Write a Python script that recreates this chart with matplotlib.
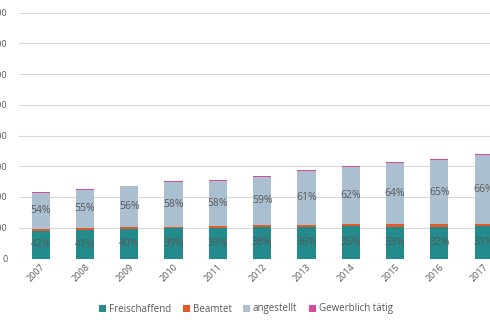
import matplotlib.pyplot as plt
import numpy as np

plt.rcParams['font.family'] = ['Open Sans', 'DejaVu Sans']

years = ['2007', '2008', '2009', '2010', '2011', '2012', '2013', '2014', '2015', '2016', '2017']
freischaffend = [90, 93, 95, 98, 99, 102, 103, 105, 104, 104, 105]
beamtet = [7, 7, 7, 6, 6, 6, 6, 6, 7, 7, 8]
angestellt = [116, 124, 133, 145, 148, 158, 176, 188, 200, 210, 223]
gewerblich = [2, 2, 2, 2, 2, 2, 2, 2, 3, 4, 4]
yticks = [0, 100, 200, 300, 400, 500, 600, 700, 800]

col_frei = '#238b8b'
col_beam = '#e05a2b'
col_ang = '#aac0d0'
col_gew = '#d94a9c'
txt = '#595959'

fig = plt.figure(figsize=(4.9, 3.26), dpi=100)
ax = fig.add_axes([18.5 / 490, 67.5 / 326, 487.3 / 490, 246 / 326])

x = np.arange(len(years))
f = np.array(freischaffend)
b = np.array(beamtet)
a = np.array(angestellt)
g = np.array(gewerblich)
total = f + b + a + g
w = 0.41

ax.bar(x, f, w, color=col_frei, label='Freischaffend', zorder=2)
ax.bar(x, b, w, bottom=f, color=col_beam, label='Beamtet', zorder=2)
ax.bar(x, a, w, bottom=f + b, color=col_ang, label='angestellt', zorder=2)
ax.bar(x, g, w, bottom=f + b + a, color=col_gew, label='Gewerblich tätig', zorder=2)

# percentage labels
for i in range(len(years)):
    ax.text(x[i], f[i] / 2, '%d%%' % round(100 * f[i] / total[i]), ha='center', va='center',
            fontsize=7.5, color=txt, zorder=3)
    ax.text(x[i], f[i] + b[i] + a[i] / 2, '%d%%' % round(100 * a[i] / total[i]), ha='center',
            va='center', fontsize=7.5, color=txt, zorder=3)

ax.set_xlim(-0.5, len(years) - 0.5)
ax.set_ylim(0, 800)
ax.set_yticks(yticks)
ax.set_yticklabels([str(v) for v in yticks])
ax.set_xticks(x)
ax.set_xticklabels(years, rotation=45, ha='right', rotation_mode='anchor')
ax.tick_params(axis='both', length=0, labelsize=6.5, labelcolor=txt)
ax.tick_params(axis='y', pad=8)
ax.tick_params(axis='x', pad=3)
ax.grid(axis='y', color='#d9d9d9', linewidth=0.8, zorder=0)
for s in ax.spines.values():
    s.set_visible(False)

fig.legend(loc='center', bbox_to_anchor=(246 / 490, 17 / 326), ncol=4, frameon=False,
           fontsize=7, labelcolor=txt, handlelength=0.7, handleheight=0.7,
           handletextpad=0.3, columnspacing=1.2)

fig.savefig('out.png', dpi=100)
